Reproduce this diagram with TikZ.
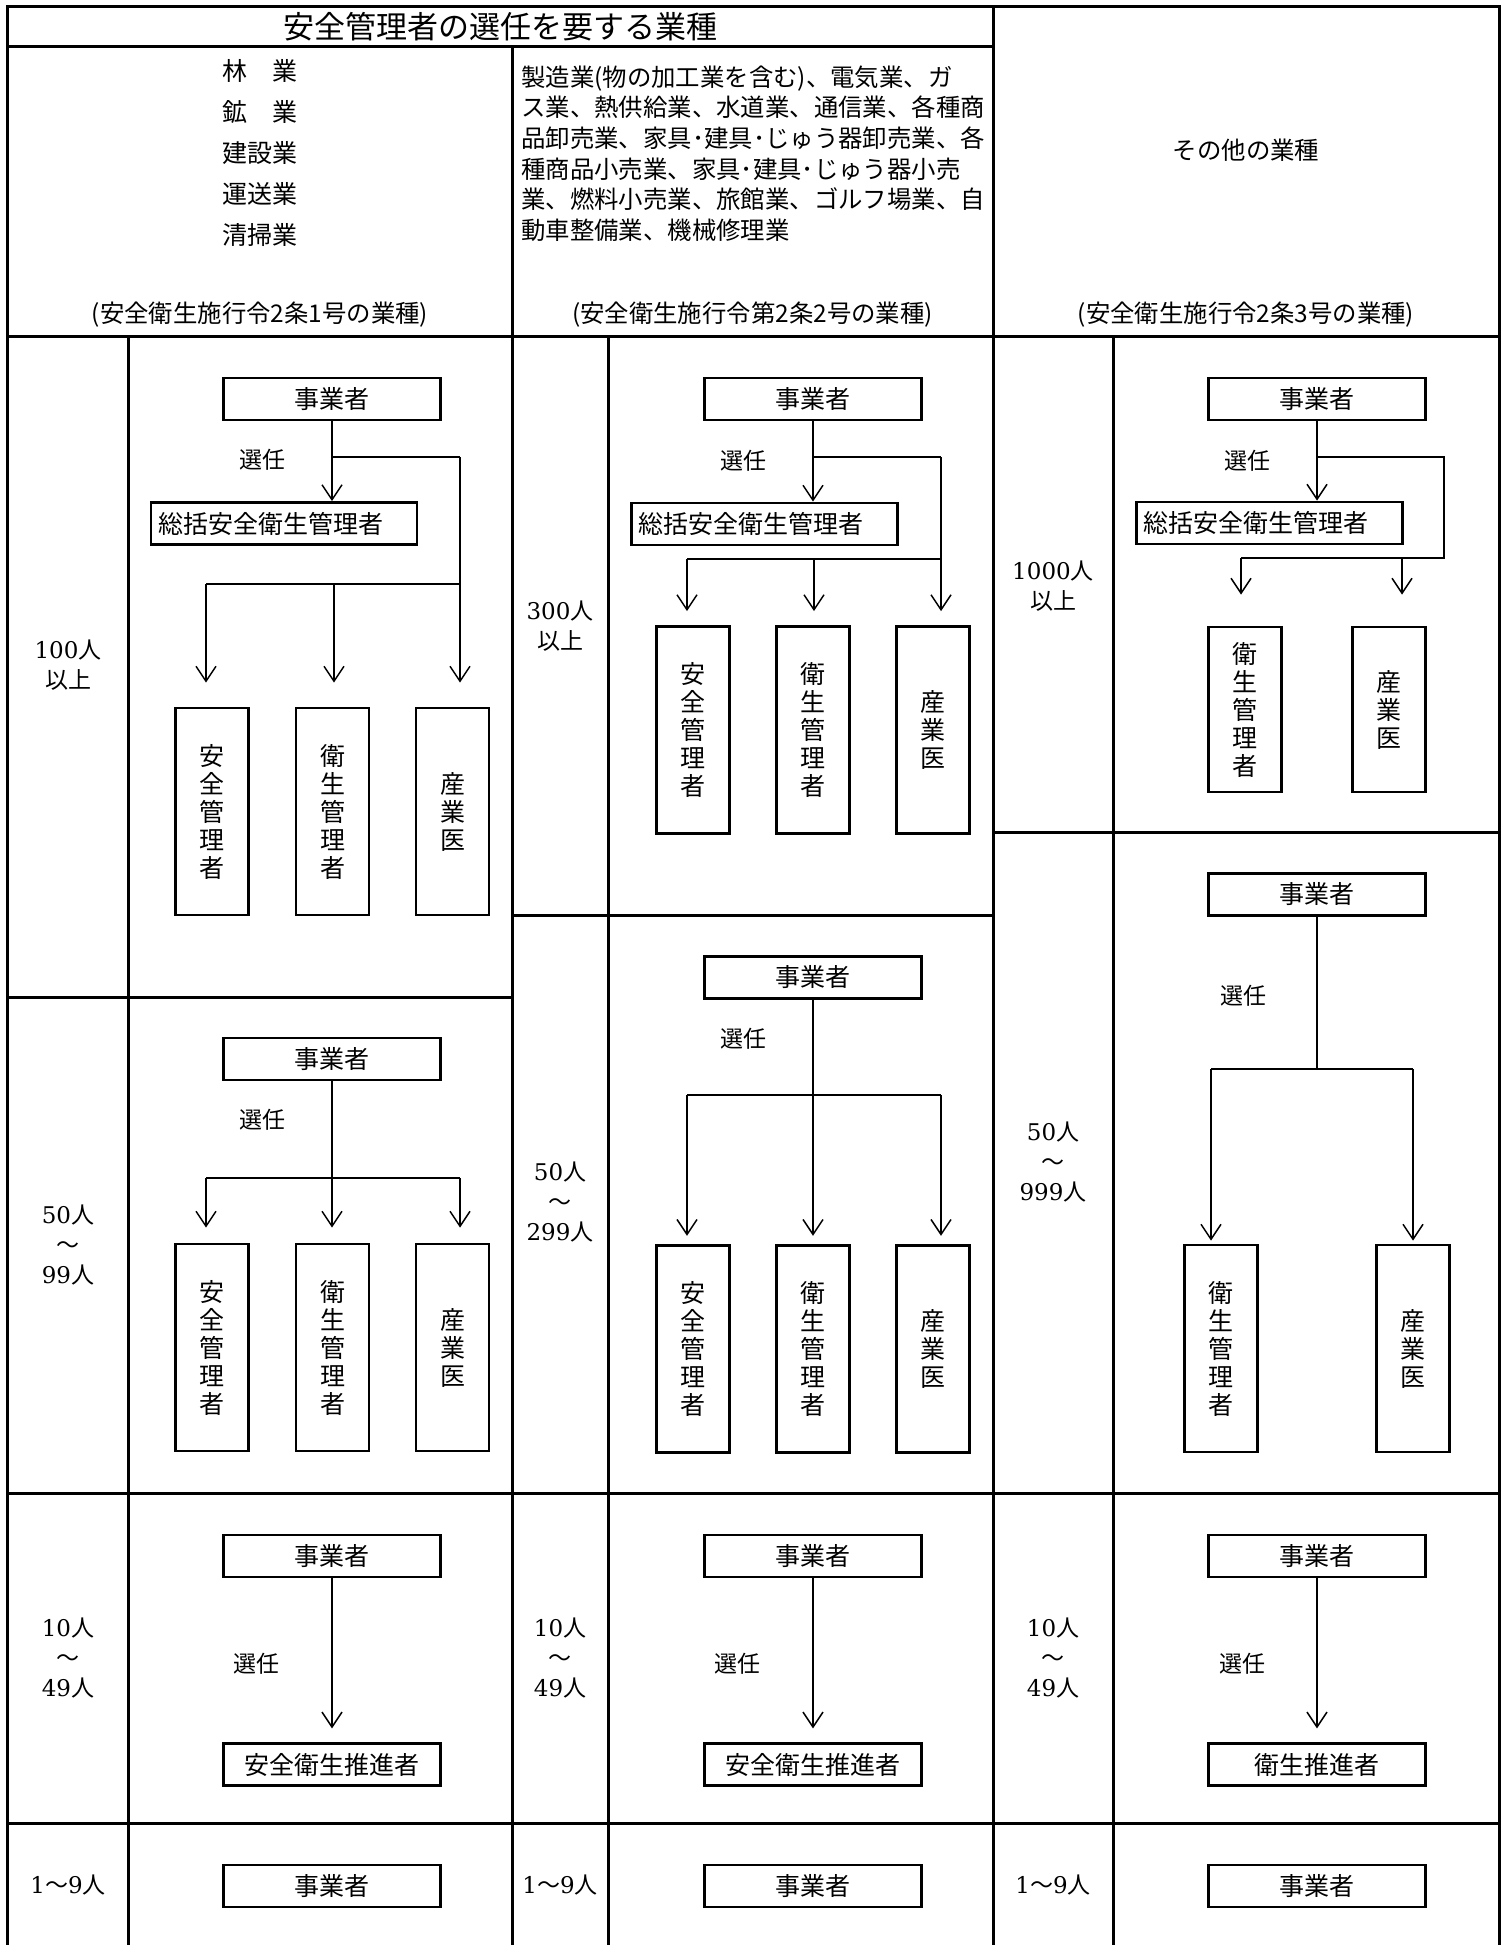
\documentclass[tikz,border=0pt]{standalone}
\usepackage{fontspec}
\usepackage{tikz}
\usetikzlibrary{arrows.meta,positioning}
\newfontfamily\jp{Noto Sans CJK JP}
\newfontfamily\sujifont{DejaVu Serif}
\newcommand{\hito}{{\jp 人}}
\newcommand{\kara}{{\jp ～}}
\tikzset{
  tline/.style={line width=3pt, line cap=rect},
  kbox/.style={draw, line width=2.8pt, inner sep=0pt, font=\jp\fontsize{25}{28}\selectfont},
  jbox/.style={kbox, minimum width=217pt, minimum height=42pt},
  sbox/.style={kbox, minimum height=42pt, text width=252pt, inner xsep=7pt, align=left},
  tbox/.style={kbox, minimum width=73pt, minimum height=207pt, align=center},
  wire/.style={line width=1.5pt},
  sel/.style={wire, -{Straight Barb[length=15pt,width=20pt]}},
  senin/.style={font=\jp\fontsize{23}{23}\selectfont},
  ninzu/.style={align=center, font=\sujifont\fontsize{23}{30}\selectfont},
  hdtext/.style={font=\jp\fontsize{24.4}{30.6}\selectfont}
}

\begin{document}
\begin{tikzpicture}[x=1pt, y=-1pt]
  \fill[white] (0,0) rectangle (1507,1945);
  \useasboundingbox (0,0) rectangle (1507,1945);

  \draw[tline] (7,7) -- (1499,7);
  \draw[tline] (7,7) -- (7,1945);
  \draw[tline] (1499,7) -- (1499,1945);
  \draw[tline] (993,7) -- (993,1945);
  \draw[tline] (7,47) -- (993,47);
  \draw[tline] (512,47) -- (512,1945);
  \draw[tline] (7,336) -- (1499,336);
  \draw[tline] (128,336) -- (128,1945);
  \draw[tline] (608,336) -- (608,1945);
  \draw[tline] (1113,336) -- (1113,1945);
  \draw[tline] (7,997) -- (512,997);
  \draw[tline] (512,915) -- (993,915);
  \draw[tline] (993,832) -- (1499,832);
  \draw[tline] (7,1493) -- (1499,1493);
  \draw[tline] (7,1823) -- (1499,1823);

  \node[font=\jp\fontsize{31}{31}\selectfont] (title) at (500,27) {安全管理者の選任を要する業種};
  \node[align=center, font=\jp\fontsize{25}{41}\selectfont] (gyo1) at (260,152.5)
    {林　業\\鉱　業\\建設業\\運送業\\清掃業};
  \node[hdtext, align=left, anchor=west, inner sep=0pt] (gyo2) at (521,153.5)
    {製造業(物の加工業を含む)、電気業、ガ\\
     ス業、熱供給業、水道業、通信業、各種商\\
     品卸売業、家具･建具･じゅう器卸売業、各\\
     種商品小売業、家具･建具･じゅう器小売\\
     業、燃料小売業、旅館業、ゴルフ場業、自\\
     動車整備業、機械修理業};
  \node[hdtext] (gyo3) at (1246,150) {その他の業種};
  \node[hdtext] (rei1) at (260,315) {(安全衛生施行令2条1号の業種)};
  \node[hdtext] (rei2) at (752.5,315) {(安全衛生施行令第2条2号の業種)};
  \node[hdtext] (rei3) at (1246,315) {(安全衛生施行令2条3号の業種)};

  \node[ninzu] (n1a) at (68,665) {100\hito\\{\jp 以上}};
  \node[ninzu] (n1b) at (68,1245) {50\hito\\\kara\\99\hito};
  \node[ninzu] (n1c) at (68,1658) {10\hito\\\kara\\49\hito};
  \node[ninzu] (n1d) at (68,1885) {1\kara 9\hito};
  \node[ninzu] (n2a) at (560,626) {300\hito\\{\jp 以上}};
  \node[ninzu] (n2b) at (560,1202) {50\hito\\\kara\\299\hito};
  \node[ninzu] (n2c) at (560,1658) {10\hito\\\kara\\49\hito};
  \node[ninzu] (n2d) at (560,1885) {1\kara 9\hito};
  \node[ninzu] (n3a) at (1053,586) {1000\hito\\{\jp 以上}};
  \node[ninzu] (n3b) at (1053,1162) {50\hito\\\kara\\999\hito};
  \node[ninzu] (n3c) at (1053,1658) {10\hito\\\kara\\49\hito};
  \node[ninzu] (n3d) at (1053,1885) {1\kara 9\hito};

  \node[jbox] (j1a) at (332,399) {事業者};
  \node[senin] (sn1a) at (262,460) {選任};
  \node[sbox] (s1a) at (284,523.5) {総括安全衛生管理者};
  \node[tbox] (an1a) at (212,811.5) {安\\全\\管\\理\\者};
  \node[tbox] (ei1a) at (332.5,811.5) {衛\\生\\管\\理\\者};
  \node[tbox] (sa1a) at (452.5,811.5) {産\\業\\医};
  \coordinate (r1a) at (460,457);
  \coordinate (b1a) at (206,584);
  \coordinate (m1a) at (334,584);
  \draw[sel] (j1a) -- (j1a |- s1a.north);
  \draw[wire] (j1a |- r1a) -- (r1a);
  \draw[sel, shorten >=24pt] (r1a) -- (r1a |- sa1a.north);
  \draw[wire] (b1a) -- (r1a |- b1a);
  \draw[sel, shorten >=24pt] (b1a) -- (b1a |- an1a.north);
  \draw[sel, shorten >=24pt] (m1a) -- (m1a |- ei1a.north);

  \node[jbox] (j1b) at (332,1059) {事業者};
  \node[senin] (sn1b) at (262,1120) {選任};
  \node[tbox] (an1b) at (212,1347.5) {安\\全\\管\\理\\者};
  \node[tbox] (ei1b) at (332.5,1347.5) {衛\\生\\管\\理\\者};
  \node[tbox] (sa1b) at (452.5,1347.5) {産\\業\\医};
  \coordinate (b1b) at (206,1178);
  \coordinate (e1b) at (460,1178);
  \draw[sel, shorten >=15pt] (j1b) -- (j1b |- ei1b.north);
  \draw[wire] (b1b) -- (e1b);
  \draw[sel, shorten >=15pt] (b1b) -- (b1b |- an1b.north);
  \draw[sel, shorten >=15pt] (e1b) -- (e1b |- sa1b.north);

  \node[jbox] (j1c) at (332,1556) {事業者};
  \node[senin] (sn1c) at (256,1664) {選任};
  \node[jbox, below=164pt of j1c] (p1c) {安全衛生推進者};
  \draw[sel, shorten >=14pt] (j1c) -- (p1c);
  \node[jbox] (j1d) at (332,1886) {事業者};

  \node[jbox] (j2a) at (813,399) {事業者};
  \node[senin] (sn2a) at (743,461) {選任};
  \node[sbox] (s2a) at (764.5,524) {総括安全衛生管理者};
  \node[tbox] (an2a) at (692.7,730) {安\\全\\管\\理\\者};
  \node[tbox] (ei2a) at (812.7,730) {衛\\生\\管\\理\\者};
  \node[tbox] (sa2a) at (932.7,730) {産\\業\\医};
  \coordinate (r2a) at (941,457);
  \coordinate (b2a) at (687,559);
  \coordinate (m2a) at (814,559);
  \draw[sel] (j2a) -- (j2a |- s2a.north);
  \draw[wire] (j2a |- r2a) -- (r2a);
  \draw[sel, shorten >=14pt] (r2a) -- (r2a |- sa2a.north);
  \draw[wire] (b2a) -- (r2a |- b2a);
  \draw[sel, shorten >=14pt] (b2a) -- (b2a |- an2a.north);
  \draw[sel, shorten >=14pt] (m2a) -- (m2a |- ei2a.north);

  \node[jbox] (j2b) at (813,977.5) {事業者};
  \node[senin] (sn2b) at (743,1039) {選任};
  \node[tbox] (an2b) at (692.7,1348.7) {安\\全\\管\\理\\者};
  \node[tbox] (ei2b) at (812.7,1348.7) {衛\\生\\管\\理\\者};
  \node[tbox] (sa2b) at (932.7,1348.7) {産\\業\\医};
  \coordinate (b2b) at (687,1095);
  \coordinate (e2b) at (941,1095);
  \draw[sel, shorten >=8pt] (j2b) -- (j2b |- ei2b.north);
  \draw[wire] (b2b) -- (e2b);
  \draw[sel, shorten >=8pt] (b2b) -- (b2b |- an2b.north);
  \draw[sel, shorten >=8pt] (e2b) -- (e2b |- sa2b.north);

  \node[jbox] (j2c) at (813,1556) {事業者};
  \node[senin] (sn2c) at (737,1664) {選任};
  \node[jbox, below=164pt of j2c] (p2c) {安全衛生推進者};
  \draw[sel, shorten >=14pt] (j2c) -- (p2c);
  \node[jbox] (j2d) at (813,1886) {事業者};

  \node[jbox] (j3a) at (1317,399) {事業者};
  \node[senin] (sn3a) at (1247,461) {選任};
  \node[sbox] (s3a) at (1269.5,523) {総括安全衛生管理者};
  \node[tbox, minimum height=165pt] (ei3a) at (1245,709.5) {衛\\生\\管\\理\\者};
  \node[tbox, minimum height=165pt] (sa3a) at (1389,709.5) {産\\業\\医};
  \coordinate (r3a) at (1444,457);
  \coordinate (b3a) at (1241,558);
  \coordinate (d3a) at (1402,558);
  \draw[sel] (j3a) -- (j3a |- s3a.north);
  \draw[wire] (j3a |- r3a) -- (r3a) -- (r3a |- b3a) -- (b3a);
  \draw[sel, shorten >=31pt] (b3a) -- (b3a |- ei3a.north);
  \draw[sel, shorten >=31pt] (d3a) -- (d3a |- sa3a.north);

  \node[jbox] (j3b) at (1317,894.5) {事業者};
  \node[senin] (sn3b) at (1243,996) {選任};
  \node[tbox] (ei3b) at (1221,1348.5) {衛\\生\\管\\理\\者};
  \node[tbox] (sa3b) at (1413,1348.5) {産\\業\\医};
  \coordinate (b3b) at (1211,1069);
  \coordinate (e3b) at (1413,1069);
  \draw[wire] (j3b) -- (j3b |- b3b);
  \draw[wire] (b3b) -- (e3b);
  \draw[sel, shorten >=3pt] (b3b) -- (b3b |- ei3b.north);
  \draw[sel, shorten >=3pt] (e3b) -- (sa3b);

  \node[jbox] (j3c) at (1317,1556) {事業者};
  \node[senin] (sn3c) at (1242,1664) {選任};
  \node[jbox, below=164pt of j3c] (p3c) {衛生推進者};
  \draw[sel, shorten >=14pt] (j3c) -- (p3c);
  \node[jbox] (j3d) at (1317,1886) {事業者};
\end{tikzpicture}
\end{document}
